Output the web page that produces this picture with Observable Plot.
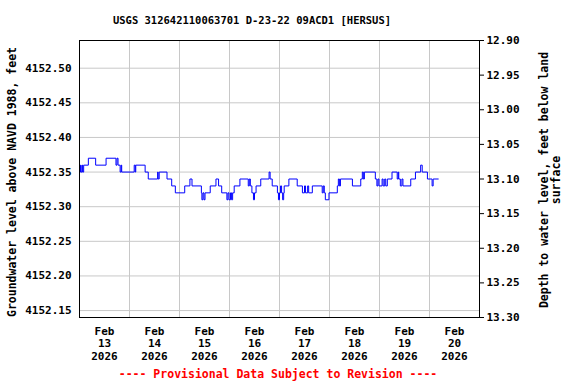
<!DOCTYPE html>
<html><head><meta charset="utf-8">
<script src="https://cdn.jsdelivr.net/npm/d3@7"></script>
<script src="https://cdn.jsdelivr.net/npm/@observablehq/plot@0.6"></script>
<style>
body{margin:0;background:#fff;}
#wrap{position:relative;width:576px;height:384px;font-family:"DejaVu Sans Mono",monospace;font-weight:bold;overflow:hidden;}
#chart{position:absolute;left:0;top:0;}
#title{position:absolute;left:0;width:504px;top:12px;line-height:16px;text-align:center;font-size:10.5px;color:#000;}
#caption{position:absolute;left:0;width:556px;top:366px;line-height:16px;text-align:center;font-size:11.5px;color:#ff0000;}
</style></head><body>
<div id="wrap">
<div id="chart"></div>
<div id="title">USGS 312642110063701 D-23-22 09ACD1 [HERSUS]</div>
<div id="caption">---- Provisional Data Subject to Revision ----</div>
</div>
<script>
// Start of record (hours below are offsets from this time)
const startTime = "2026-02-13T00:00:00Z";
const hoursFromStart = [
  0, 0.5, 0.75, 1.25, 1.5, 2, 4.25, 7.75, 12.75, 17.5,
  18, 18.5, 19.5, 20, 20.25, 26.25, 26.75, 27, 31.5, 33,
  37.5, 37.75, 38.25, 42, 44.25, 46, 50.5, 53, 54, 58.5,
  58.75, 59.25, 59.75, 60.25, 62.75, 65.5, 66.75, 68.25, 70.75, 71.25,
  71.75, 72.5, 73, 73.5, 74.25, 77, 81, 81.5, 82, 82.75,
  83.5, 84, 84.75, 87, 91, 91.5, 92.5, 95, 95.5, 96,
  96.5, 97, 97.5, 98, 98.25, 100.5, 104.5, 107, 108, 108.5,
  109.5, 110, 111.75, 116.5, 117, 117.5, 118, 119.75, 123.75, 124.25,
  124.75, 125.25, 131, 135, 135.75, 136.25, 136.75, 142, 142.75, 143.25,
  143.75, 145.25, 145.75, 146.5, 147, 147.75, 150, 152.5, 153, 153.25,
  154, 154.75, 155.25, 159, 161.25, 163.75, 164.5, 167, 169.25, 169.75,
  172.25
];
const levels = [
  4152.35, 4152.36, 4152.35, 4152.36, 4152.35, 4152.36, 4152.37, 4152.36, 4152.37, 4152.36,
  4152.37, 4152.36, 4152.35, 4152.36, 4152.35, 4152.36, 4152.35, 4152.36, 4152.35, 4152.34,
  4152.35, 4152.34, 4152.35, 4152.34, 4152.33, 4152.32, 4152.33, 4152.34, 4152.33, 4152.32,
  4152.31, 4152.32, 4152.31, 4152.32, 4152.33, 4152.34, 4152.33, 4152.32, 4152.31, 4152.32,
  4152.31, 4152.32, 4152.31, 4152.32, 4152.33, 4152.34, 4152.33, 4152.34, 4152.33, 4152.32,
  4152.31, 4152.32, 4152.33, 4152.34, 4152.35, 4152.34, 4152.33, 4152.32, 4152.31, 4152.32,
  4152.33, 4152.32, 4152.31, 4152.32, 4152.33, 4152.34, 4152.33, 4152.32, 4152.33, 4152.32,
  4152.33, 4152.32, 4152.33, 4152.32, 4152.33, 4152.32, 4152.31, 4152.32, 4152.33, 4152.34,
  4152.33, 4152.34, 4152.33, 4152.34, 4152.35, 4152.34, 4152.35, 4152.34, 4152.33, 4152.34,
  4152.33, 4152.34, 4152.33, 4152.34, 4152.33, 4152.34, 4152.35, 4152.34, 4152.35, 4152.34,
  4152.33, 4152.34, 4152.33, 4152.34, 4152.35, 4152.36, 4152.35, 4152.34, 4152.33, 4152.34,
  4152.34
];
const landSurface = 4165.44;
const elevTicks = [4152.15, 4152.20, 4152.25, 4152.30, 4152.35, 4152.40, 4152.45, 4152.50];
const depthTicks = [12.90, 12.95, 13.00, 13.05, 13.10, 13.15, 13.20, 13.25, 13.30];
const dayTicks = ["2026-02-13", "2026-02-14", "2026-02-15", "2026-02-16", "2026-02-17", "2026-02-18", "2026-02-19", "2026-02-20", "2026-02-21"];
const dayLabels = ["Feb\n13\n2026", "Feb\n14\n2026", "Feb\n15\n2026", "Feb\n16\n2026", "Feb\n17\n2026", "Feb\n18\n2026", "Feb\n19\n2026", "Feb\n20\n2026"];
const yLabelLeft = "Groundwater level above NAVD 1988, feet";
const yLabelRight = "Depth to water level, feet below land\nsurface";

const t0 = new Date(startTime);
const data = hoursFromStart.map((h, i) => ({time: new Date(+t0 + h * 3600e3), level: levels[i]}));
const days = dayTicks.map(d => new Date(d + "T00:00:00Z"));
const noons = dayLabels.map((lab, i) => ({t: new Date(+days[i] + 12 * 3600e3), lab}));

const chart = Plot.plot({
  width: 576, height: 384,
  marginLeft: 79, marginRight: 97, marginTop: 40, marginBottom: 67,
  style: {fontFamily: "'DejaVu Sans Mono', monospace", fontWeight: "bold", fontSize: "11px", background: "transparent", color: "black", overflow: "visible"},
  x: {type: "utc", domain: [days[0], days[days.length - 1]], axis: null},
  y: {domain: [4152.14, 4152.54]},
  marks: [
    Plot.gridY(elevTicks, {stroke: "#c8c8c8", strokeOpacity: 1}),
    Plot.gridX(days.slice(1, -1), {stroke: "#c8c8c8", strokeOpacity: 1}),
    Plot.line(data, {x: "time", y: "level", curve: "step-after", stroke: "#0000ff", strokeWidth: 1}),
    Plot.frame({stroke: "black", strokeWidth: 1}),
    Plot.axisY(elevTicks, {anchor: "left", tickSize: 0, tickPadding: 8, tickFormat: d => d.toFixed(2), label: null, fontSize: 11}),
    Plot.axisY(depthTicks.map(d => landSurface - d), {anchor: "right", tickSize: 4, tickPadding: 3, tickFormat: d => (landSurface - d).toFixed(2), label: null, fontSize: 11}),
    Plot.text(noons, {x: "t", text: "lab", frameAnchor: "bottom", lineAnchor: "top", dy: 8, lineHeight: 1.16, fontSize: 11}),
    Plot.text([yLabelLeft], {frameAnchor: "left", textAnchor: "middle", dx: -67, dy: 3, rotate: -90, fontSize: 11.5}),
    Plot.text([yLabelRight], {frameAnchor: "right", textAnchor: "middle", dx: 71, dy: 1, rotate: -90, lineAnchor: "middle", lineHeight: 1.05, fontSize: 11.5})
  ]
});
document.getElementById("chart").appendChild(chart);
</script>
</body></html>
